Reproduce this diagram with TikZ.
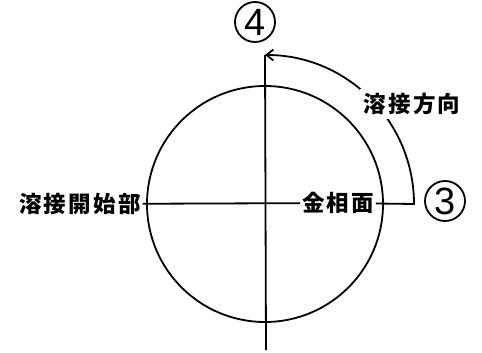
\documentclass[tikz,border=0pt]{standalone}
\usepackage{fontspec}
\setmainfont{Liberation Sans}
\newfontfamily\cjk[LetterSpace=10]{Noto Sans CJK JP}
\usetikzlibrary{arrows.meta}
\begin{document}
\begin{tikzpicture}[x=1pt,y=-1pt,line width=1.8pt,
  lbl/.style={font=\cjk\bfseries\fontsize{22.5}{22.5}\selectfont,inner sep=1pt},
  num/.style={circle,draw,line width=1.8pt,minimum size=40pt,inner sep=0pt,font=\fontsize{38}{38}\selectfont}]
\useasboundingbox (0,0) rectangle (482,353);
\coordinate (c) at (265,204);
\draw (c) circle[radius=118pt];
\coordinate (vtop) at (265,55);
\coordinate (vbot) at (266,350);
\draw (vtop) -- (vbot);
\node[lbl] (start) at (80,204) {溶接開始部};
\node[lbl] (kin) at (338,203) {金相面};
\node[num] (n4) at (255,22) {4};
\node[num] (n3) at (445,201) {3};
\draw (start) -- (kin);
\coordinate (turn) at (414,204);
\draw[-{Straight Barb[length=7pt,width=11pt]}] (kin) -- (turn) arc[start angle=0,end angle=90,radius=149pt];
\node[lbl,fill=white,inner sep=4pt] (dir) at (412,104) {溶接方向};
\end{tikzpicture}
\end{document}
